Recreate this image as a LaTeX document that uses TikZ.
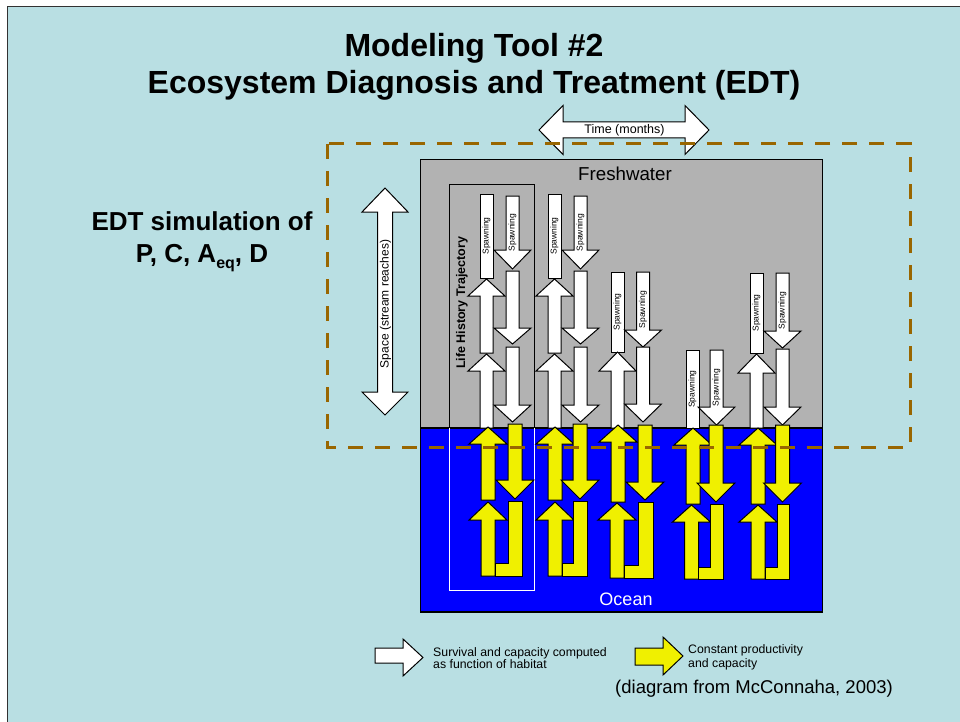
\documentclass[tikz,border=0pt]{standalone}
\usepackage{fontspec}
\setmainfont{Liberation Sans}

\definecolor{bgblue}{RGB}{185,223,227}
\definecolor{framegray}{RGB}{50,50,50}
\definecolor{freshgray}{RGB}{178,178,178}
\definecolor{oceanblue}{RGB}{0,0,255}
\definecolor{arrowyellow}{RGB}{240,240,0}
\definecolor{dashbrown}{RGB}{153,102,0}

\newcommand\pxfont[2]{\fontsize{#1}{#2}\selectfont}

% vertical block arrow: style, centre x, tip y, head-base y, tail y, shaft half-width, head half-width
\newcommand\VArr[7]{\draw[#1] ({#2-#6},#5) -- ({#2-#6},#4) -- ({#2-#7},#4) -- (#2,#3) -- ({#2+#7},#4) -- ({#2+#6},#4) -- ({#2+#6},#5) -- cycle;}
\newcommand\WArr[4]{\VArr{whitearrow}{#1}{#2}{#3}{#4}{6.5}{18.5}}
\newcommand\YArr[4]{\VArr{yellowarrow}{#1}{#2}{#3}{#4}{7}{19}}
% U-turn arrow: left centre x, tip, head base, right column left x, right column right x,
% top of right column, inner bottom, outer bottom
\newcommand\YTurn[8]{\YArr{#1}{#2}{#3}{#8}
  \draw[yellowarrow] ({#1+7},#7) -- (#4,#7) -- (#4,#6) -- (#5,#6) -- (#5,#8) -- ({#1+7},#8) -- cycle;}
% spawning block: node name, centre x, top, bottom
\newcommand\SpawnRect[4]{\draw[whitearrow] ({#2-6.5},#3) rectangle ({#2+6.5},#4);
  \node[spawn] (#1) at (#2,{(#3+#4)/2}) {Spawning};}
% spawning arrow pointing down: node name, centre x, top, head base, tip
\newcommand\SpawnDn[5]{\WArr{#2}{#5}{#4}{#3}
  \node[spawn] (#1) at (#2,{(#3+#5)/2}) {Spawning};}

\tikzset{
  whitearrow/.style={fill=white, draw=black, line width=1pt, line join=miter},
  yellowarrow/.style={fill=arrowyellow, draw=black, line width=1pt, line join=miter},
  spawn/.style={rotate=90, inner sep=0pt, font=\pxfont{8.5}{9}},
  titletext/.style={anchor=base, inner sep=0pt, font=\bfseries\pxfont{32}{36}},
  sidetext/.style={anchor=base, inner sep=0pt, font=\bfseries\pxfont{26}{30}},
  legendtext/.style={anchor=base west, inner sep=0pt, font=\pxfont{12.3}{14}},
  dashline/.style={draw=dashbrown, line width=3pt, dash pattern=on 15pt off 12pt},
}

\begin{document}
\begin{tikzpicture}[x=1pt, y=-1pt]
\useasboundingbox (0,0) rectangle (960,722);
% slide background and frame
\fill[white] (0,0) rectangle (960,722);
\fill[bgblue] (7,7) rectangle (960,722);
\draw[framegray, line width=1pt] (7,722) -- (7,7) -- (960,7);

% titles
\node[titletext] (title1) at (474,57) {Modeling Tool \#2};
\node[titletext] (title2) at (474,94) {Ecosystem Diagnosis and Treatment (EDT)};
\node[sidetext] (sim1) at (202,230) {EDT simulation of};
\node[sidetext] (sim2) at (202,262) {P, C, A\raisebox{-6pt}{\pxfont{16}{18}eq}, D};

% time and space axes
\draw[whitearrow] (539,130) -- (563,105.5) -- (563,122) -- (685,122) -- (685,105.5) -- (709,130)
  -- (685,154.5) -- (685,138) -- (563,138) -- (563,154.5) -- cycle;
\node[anchor=base, inner sep=0pt, font=\pxfont{12.5}{14}] (time) at (624.5,134) {Time (months)};
\draw[whitearrow] (385,188) -- (408,212) -- (392.5,212) -- (392.5,392) -- (408,392) -- (385,415)
  -- (362,392) -- (377.5,392) -- (377.5,212) -- (362,212) -- cycle;
\node[rotate=90, inner sep=0pt, font=\pxfont{12}{14}] (space) at (385.5,304) {Space (stream reaches)};

% habitats
\draw[fill=freshgray, draw=black, line width=1.2pt] (420.5,159.5) rectangle (822.5,428);
\draw[fill=oceanblue, draw=black, line width=1.2pt] (420.5,428) rectangle (822.5,612);
\node[anchor=base, inner sep=0pt, font=\pxfont{18.7}{20}] (fresh) at (625,181) {Freshwater};
\node[anchor=base, inner sep=0pt, font=\pxfont{18}{20}, text=white] (ocean) at (626,605) {Ocean};

% life history trajectory frame
\draw[black, line width=1pt] (449,428) -- (449,184) -- (534,184) -- (534,428);
\draw[white, line width=1pt] (449,428) -- (449,590) -- (534,590) -- (534,428);
\node[rotate=90, inner sep=0pt, font=\bfseries\pxfont{12.5}{14}] (lht) at (462,303) {Life History Trajectory};

% trajectory 1
\SpawnRect{sp1a}{486.5}{194}{278}
\WArr{486.5}{279}{296}{353}
\WArr{486.5}{354}{371}{428}
\SpawnDn{sp1b}{512.5}{196}{250}{269}
\WArr{512.5}{344}{328}{271}
\WArr{512.5}{422}{405}{347}
% trajectory 2
\SpawnRect{sp2a}{554.5}{194}{278}
\WArr{554.5}{279}{296}{353}
\WArr{554.5}{354}{371}{428}
\SpawnDn{sp2b}{580.5}{196}{250}{269}
\WArr{580.5}{344}{328}{271}
\WArr{580.5}{422}{405}{347}
% trajectory 3
\SpawnRect{sp3a}{617.5}{272}{352}
\WArr{617.5}{352}{371}{428}
\SpawnDn{sp3b}{643}{272}{330}{347}
\WArr{643}{422}{404}{347}
% trajectory 4
\SpawnRect{sp4a}{692.5}{350}{428}
\SpawnDn{sp4b}{716.5}{350}{407}{425}
% trajectory 5
\SpawnRect{sp5a}{756.5}{273}{353}
\WArr{756.5}{354}{373}{428}
\SpawnDn{sp5b}{782.5}{273}{331}{348}
\WArr{782.5}{425}{407}{349}

% ocean phase
\YArr{488}{427}{444}{500}
\YArr{515}{499}{480}{424}
\YTurn{488}{502}{520}{508}{522}{501}{563}{576}
\YArr{555}{427}{444}{500}
\YArr{580}{499}{480}{424}
\YTurn{555}{502}{520}{573}{587}{501}{563}{576}
\YArr{618}{425}{442}{502}
\YArr{645}{500}{482}{425}
\YTurn{617}{503}{520}{638}{653}{502}{565}{578}
\YArr{693}{428}{445}{504}
\YArr{716}{502}{483}{425}
\YTurn{691.5}{505}{522}{710}{723}{504}{567}{579}
\YArr{758}{428}{445}{504}
\YArr{782.5}{502}{483}{425}
\YTurn{758}{505}{522}{777}{789}{504}{567}{579}

% simulation domain
\draw[dashline] (327,144) rectangle (910,447);

% legend
\draw[whitearrow] (375,648) -- (403,648) -- (403,639) -- (423,657.5) -- (403,676) -- (403,663) -- (375,663) -- cycle;
\node[legendtext] (leg1a) at (433,656) {Survival and capacity computed};
\node[legendtext] (leg1b) at (433,668) {as function of habitat};
\draw[yellowarrow] (635,648) -- (663,648) -- (663,637) -- (683,656) -- (663,675) -- (663,665) -- (635,665) -- cycle;
\node[legendtext] (leg2a) at (688,653) {Constant productivity};
\node[legendtext] (leg2b) at (688,667) {and capacity};
\node[anchor=base west, inner sep=0pt, font=\pxfont{18.5}{20}] (source) at (615,693) {(diagram from McConnaha, 2003)};
\end{tikzpicture}
\end{document}
